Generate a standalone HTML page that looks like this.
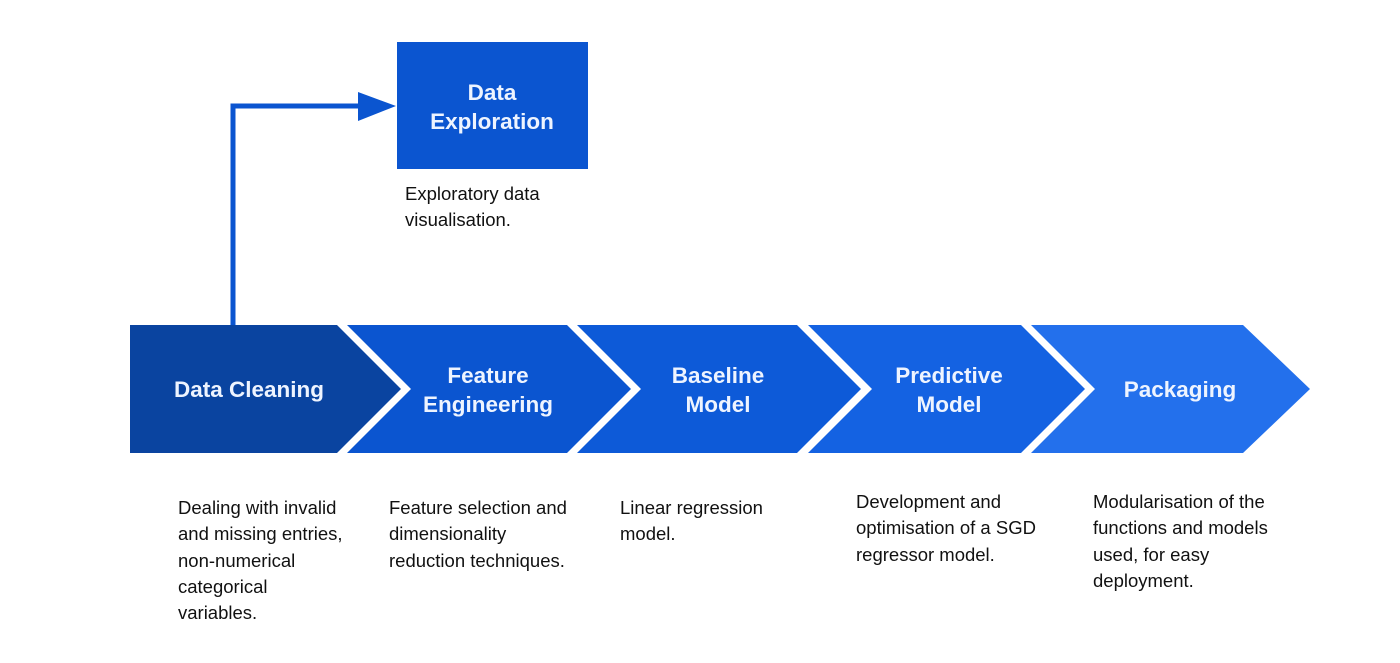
<!DOCTYPE html>
<html><head><style>
body{margin:0;width:1400px;height:663px;background:#fff;position:relative;overflow:hidden;font-family:"Liberation Sans",Arial,sans-serif}
.d{position:absolute;font-size:18.5px;line-height:26.3px;color:#111;white-space:nowrap}
</style></head><body>
<svg width="1400" height="663" style="position:absolute;left:0;top:0">
<rect x="397" y="42" width="191" height="127" fill="#0b55d0"/>
<path d="M233 325 V106 H362" fill="none" stroke="#0b55d0" stroke-width="5"/>
<polygon points="358,92 396,106 358,121" fill="#0b55d0"/>
<polygon points="130,325 337,325 401,389 337,453 130,453" fill="#0a44a0"/>
<polygon points="347,325 567,325 631,389 567,453 347,453 411,389" fill="#0b55d0"/>
<polygon points="577,325 797,325 861,389 797,453 577,453 641,389" fill="#0d5ad8"/>
<polygon points="808,325 1021,325 1085,389 1021,453 808,453 872,389" fill="#1462e2"/>
<polygon points="1031,325 1243,325 1310,389 1243,453 1031,453 1095,389" fill="#2370ec"/>
<g font-family="Liberation Sans, Arial, sans-serif" font-weight="bold" font-size="22.5" fill="#eef4ff" text-anchor="middle">
<text x="492" y="100">Data</text>
<text x="492" y="129">Exploration</text>
<text x="249" y="397">Data Cleaning</text>
<text x="488" y="383">Feature</text>
<text x="488" y="412">Engineering</text>
<text x="718" y="383">Baseline</text>
<text x="718" y="412">Model</text>
<text x="949" y="383">Predictive</text>
<text x="949" y="412">Model</text>
<text x="1180" y="397">Packaging</text>
</g>
</svg>
<div class="d" style="left:405px;top:181px">Exploratory data<br>visualisation.</div>
<div class="d" style="left:178px;top:495px">Dealing with invalid<br>and missing entries,<br>non-numerical<br>categorical<br>variables.</div>
<div class="d" style="left:389px;top:495px">Feature selection and<br>dimensionality<br>reduction techniques.</div>
<div class="d" style="left:620px;top:495px">Linear regression<br>model.</div>
<div class="d" style="left:856px;top:489px">Development and<br>optimisation of a SGD<br>regressor model.</div>
<div class="d" style="left:1093px;top:489px">Modularisation of the<br>functions and models<br>used, for easy<br>deployment.</div>
</body></html>
